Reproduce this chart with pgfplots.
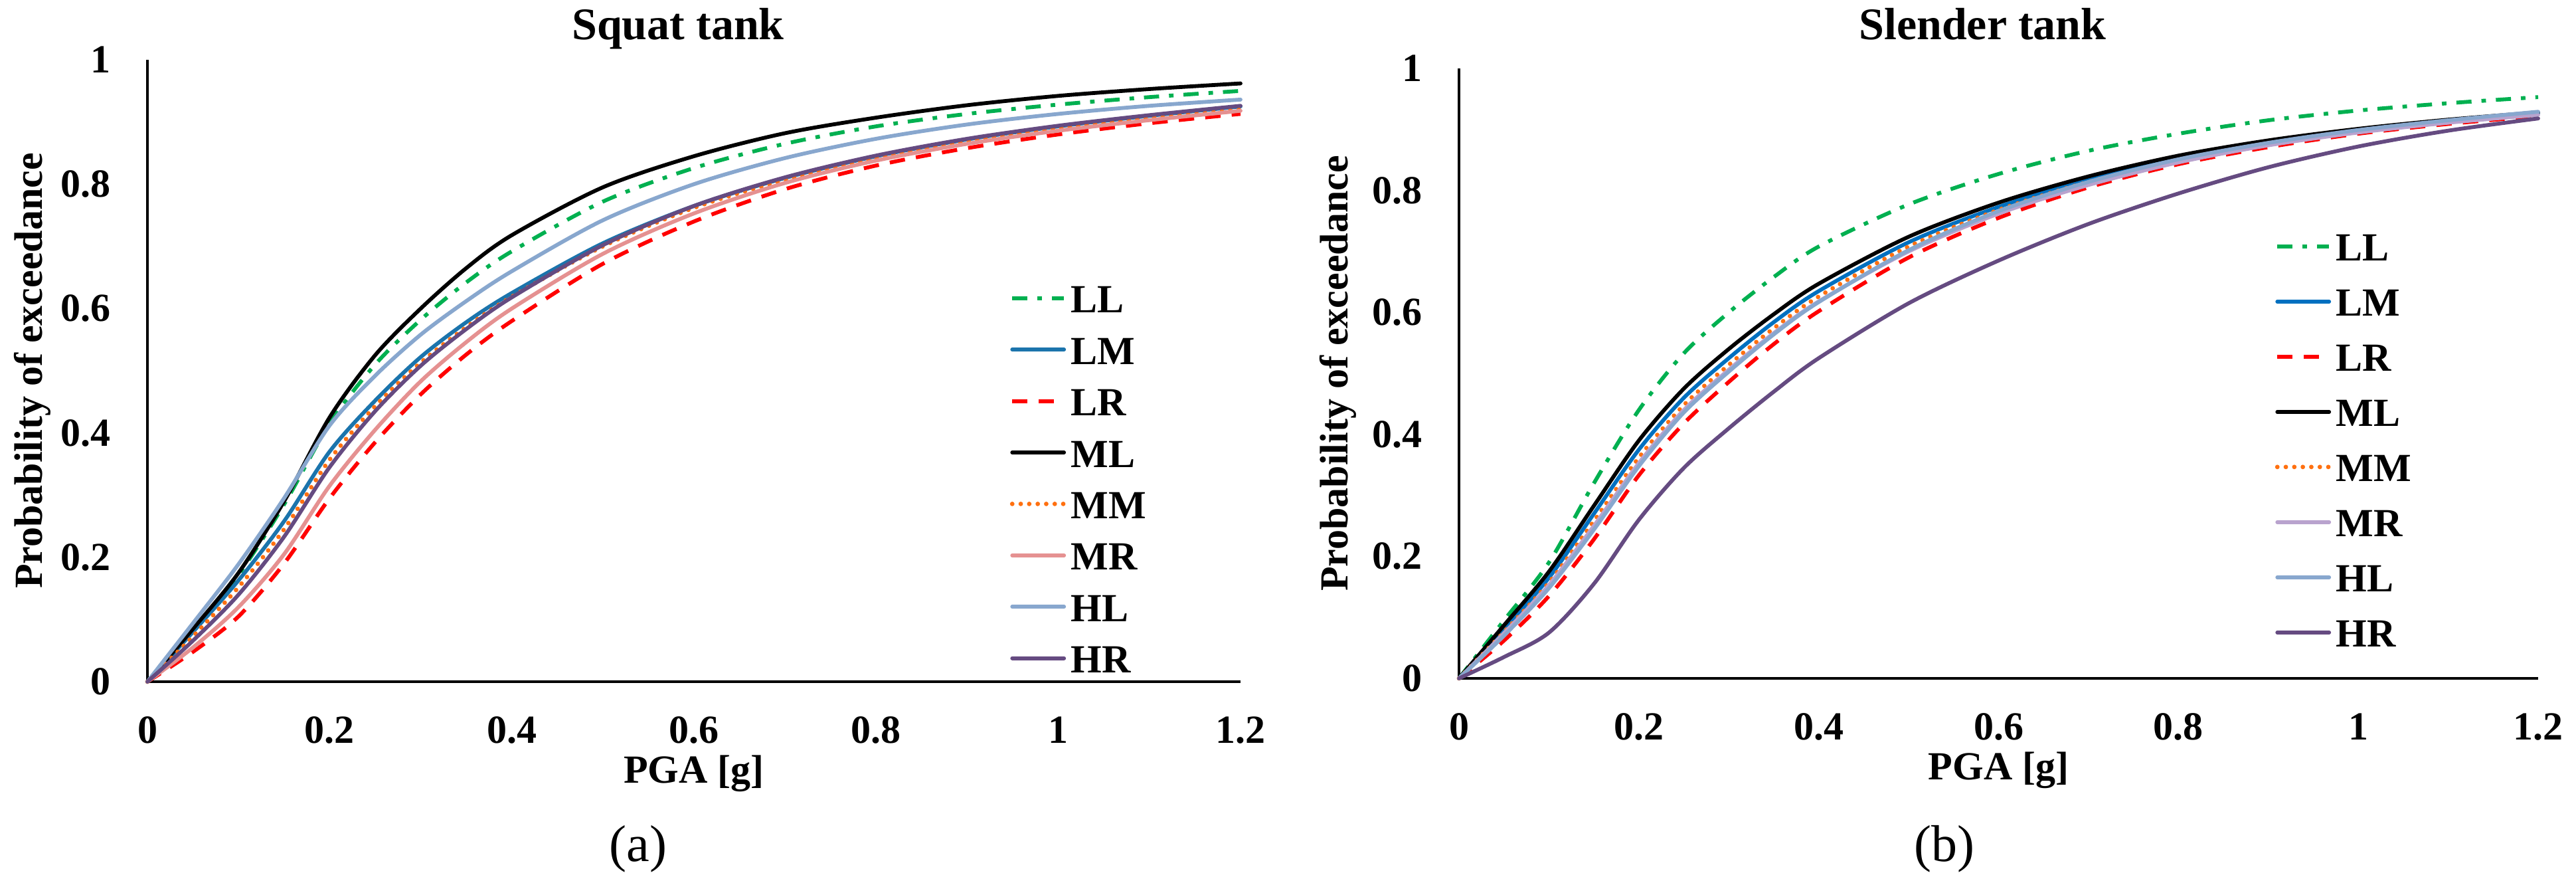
\documentclass[border=0pt]{standalone}
\usepackage{fontspec}
\setmainfont{Liberation Serif}
\usepackage{pgfplots}
\usepackage{pgfplotstable}
\pgfplotsset{compat=1.18}

\definecolor{cLL}{RGB}{0,176,80}
\definecolor{cLMa}{RGB}{27,116,172}
\definecolor{cLMb}{RGB}{0,112,192}
\definecolor{cLR}{RGB}{255,0,0}
\definecolor{cMM}{RGB}{255,112,16}
\definecolor{cMRa}{RGB}{229,145,145}
\definecolor{cMRb}{RGB}{185,163,206}
\definecolor{cHL}{RGB}{136,167,206}
\definecolor{cHR}{RGB}{101,75,129}

% Fragility curves: probability of exceedance vs PGA [g]
\pgfplotstableread{
x    LL    LM    LR    ML    MM    MR    HL    HR
0    0     0     0     0     0     0     0     0
0.05 0.083 0.080 0.048 0.085 0.073 0.055 0.094 0.066
0.10 0.172 0.163 0.105 0.175 0.152 0.120 0.189 0.140
0.15 0.285 0.258 0.190 0.290 0.245 0.205 0.295 0.233
0.20 0.415 0.370 0.295 0.425 0.357 0.315 0.412 0.345
0.25 0.510 0.452 0.385 0.525 0.443 0.405 0.492 0.435
0.30 0.582 0.522 0.462 0.600 0.513 0.483 0.558 0.508
0.35 0.642 0.578 0.526 0.665 0.570 0.546 0.612 0.567
0.40 0.692 0.625 0.580 0.718 0.619 0.600 0.660 0.618
0.50 0.772 0.705 0.672 0.795 0.700 0.688 0.742 0.702
0.60 0.826 0.765 0.740 0.845 0.762 0.753 0.800 0.765
0.70 0.865 0.810 0.792 0.882 0.807 0.802 0.842 0.811
0.80 0.893 0.845 0.830 0.907 0.842 0.838 0.873 0.846
0.90 0.913 0.872 0.858 0.927 0.869 0.865 0.896 0.873
1.00 0.928 0.893 0.880 0.942 0.890 0.886 0.913 0.894
1.10 0.940 0.910 0.898 0.953 0.906 0.903 0.926 0.911
1.20 0.950 0.925 0.913 0.962 0.920 0.918 0.936 0.926
}\squat

\pgfplotstableread{
x    LL    LM    LR    ML    MM    MR    HL    HR
0    0     0     0     0     0     0     0     0
0.05 0.095 0.081 0.062 0.087 0.076 0.074 0.070 0.035
0.10 0.190 0.165 0.135 0.175 0.157 0.153 0.148 0.075
0.15 0.320 0.270 0.228 0.283 0.258 0.250 0.244 0.155
0.20 0.440 0.375 0.333 0.390 0.362 0.353 0.348 0.260
0.25 0.533 0.460 0.418 0.475 0.448 0.440 0.436 0.345
0.30 0.600 0.525 0.486 0.540 0.514 0.506 0.503 0.410
0.35 0.658 0.584 0.548 0.597 0.574 0.566 0.564 0.470
0.40 0.708 0.635 0.602 0.647 0.626 0.618 0.617 0.525
0.50 0.777 0.715 0.690 0.724 0.708 0.700 0.702 0.615
0.60 0.827 0.773 0.755 0.780 0.768 0.762 0.766 0.685
0.70 0.865 0.818 0.805 0.823 0.814 0.809 0.814 0.745
0.80 0.893 0.853 0.843 0.857 0.850 0.846 0.851 0.795
0.90 0.915 0.879 0.871 0.882 0.877 0.874 0.878 0.838
1.00 0.931 0.899 0.893 0.901 0.897 0.895 0.899 0.872
1.10 0.943 0.914 0.909 0.916 0.913 0.911 0.915 0.898
1.20 0.953 0.927 0.922 0.928 0.926 0.924 0.929 0.918
}\slender

\newcommand{\lblfont}{\fontsize{15bp}{15bp}\selectfont\bfseries}

\pgfplotsset{
  frag/.style={
    scale only axis,
    xmin=0, xmax=1.2, ymin=0, ymax=1,
    axis x line*=bottom, axis y line*=left,
    axis line style={black, line width=0.8bp},
    major tick length=0pt,
    xtick={0,0.2,0.4,0.6,0.8,1,1.2},
    ytick={0,0.2,0.4,0.6,0.8,1},
    /pgf/number format/assume math mode=true,
    tick label style={font=\lblfont, inner sep=0pt},
    xticklabel style={anchor=base, yshift=-23bp},
    yticklabel style={anchor=east, xshift=-13.75bp},
    xlabel={PGA [g]},
    ylabel={Probability of exceedance},
    label style={font=\lblfont},
    xlabel style={at={(axis description cs:0.5,0)}, anchor=base, yshift=-38bp},
    title style={at={(axis description cs:0.5,1)}, anchor=base, xshift=-6bp,
                 font=\fontsize{17bp}{17bp}\selectfont\bfseries},
    clip=false,
    legend cell align=left,
    legend style={draw=none, fill=none, inner sep=0pt, anchor=north west,
      font=\lblfont, column sep=1.75bp,
      nodes={inner sep=0pt, text height=11bp, text depth=0pt}},
    legend image code/.code={\draw[##1] (0bp,0bp) -- (19.5bp,0bp);},
    every axis plot/.append style={smooth, no markers, line width=1.45bp, line join=round},
  },
  sLL/.style={cLL, dash pattern=on 5.7bp off 3.75bp on 1.7bp off 3.75bp},
  sLR/.style={cLR, dash pattern=on 5.8bp off 4.2bp},
  sML/.style={black, line cap=round},
  sMM/.style={cMM, line cap=round, line width=1.7bp, dash pattern=on 0bp off 3.2bp},
  sHL/.style={cHL, line cap=round},
  sHR/.style={cHR, line cap=round},
}

\begin{document}
\begin{tikzpicture}
\path[use as bounding box] (0,0) rectangle (969.75bp,-333.75bp);

\begin{axis}[frag,
  at={(55.5bp,-256.5bp)}, anchor=south west,
  width=411.5bp, height=234bp,
  title={Squat tank}, title style={yshift=1.75bp},
  ylabel style={at={(axis description cs:-0.096,0.5)}, anchor=base},
  legend style={at={(0.7886,0.641)}, row sep=8.35bp},
]
\addplot[sLL] table[x=x, y=LL] {\squat}; \addlegendentry{LL}
\addplot[cLMa, line cap=round] table[x=x, y=LM] {\squat}; \addlegendentry{LM}
\addplot[sLR] table[x=x, y=LR] {\squat}; \addlegendentry{LR}
\addplot[sML] table[x=x, y=ML] {\squat}; \addlegendentry{ML}
\addplot[sMM] table[x=x, y=MM] {\squat}; \addlegendentry{MM}
\addplot[cMRa, line cap=round] table[x=x, y=MR] {\squat}; \addlegendentry{MR}
\addplot[sHL] table[x=x, y=HL] {\squat}; \addlegendentry{HL}
\addplot[sHR] table[x=x, y=HR] {\squat}; \addlegendentry{HR}
\end{axis}

\begin{axis}[frag,
  at={(549.25bp,-255.25bp)}, anchor=south west,
  width=406.25bp, height=229.5bp,
  title={Slender tank}, title style={yshift=5bp},
  ylabel style={at={(axis description cs:-0.1034,0.5)}, anchor=base},
  legend style={at={(0.7557,0.7331)}, row sep=9.75bp},
]
\addplot[sLL] table[x=x, y=LL] {\slender}; \addlegendentry{LL}
\addplot[cLMb, line cap=round] table[x=x, y=LM] {\slender}; \addlegendentry{LM}
\addplot[sLR] table[x=x, y=LR] {\slender}; \addlegendentry{LR}
\addplot[sML] table[x=x, y=ML] {\slender}; \addlegendentry{ML}
\addplot[sMM] table[x=x, y=MM] {\slender}; \addlegendentry{MM}
\addplot[cMRb, line cap=round] table[x=x, y=MR] {\slender}; \addlegendentry{MR}
\addplot[sHL] table[x=x, y=HL] {\slender}; \addlegendentry{HL}
\addplot[sHR] table[x=x, y=HR] {\slender}; \addlegendentry{HR}
\end{axis}

\node[font=\fontsize{19.5bp}{19.5bp}\selectfont] at (240.25bp,-319.5bp) {(a)};
\node[font=\fontsize{19.5bp}{19.5bp}\selectfont] at (732bp,-319.5bp) {(b)};
\end{tikzpicture}
\end{document}
